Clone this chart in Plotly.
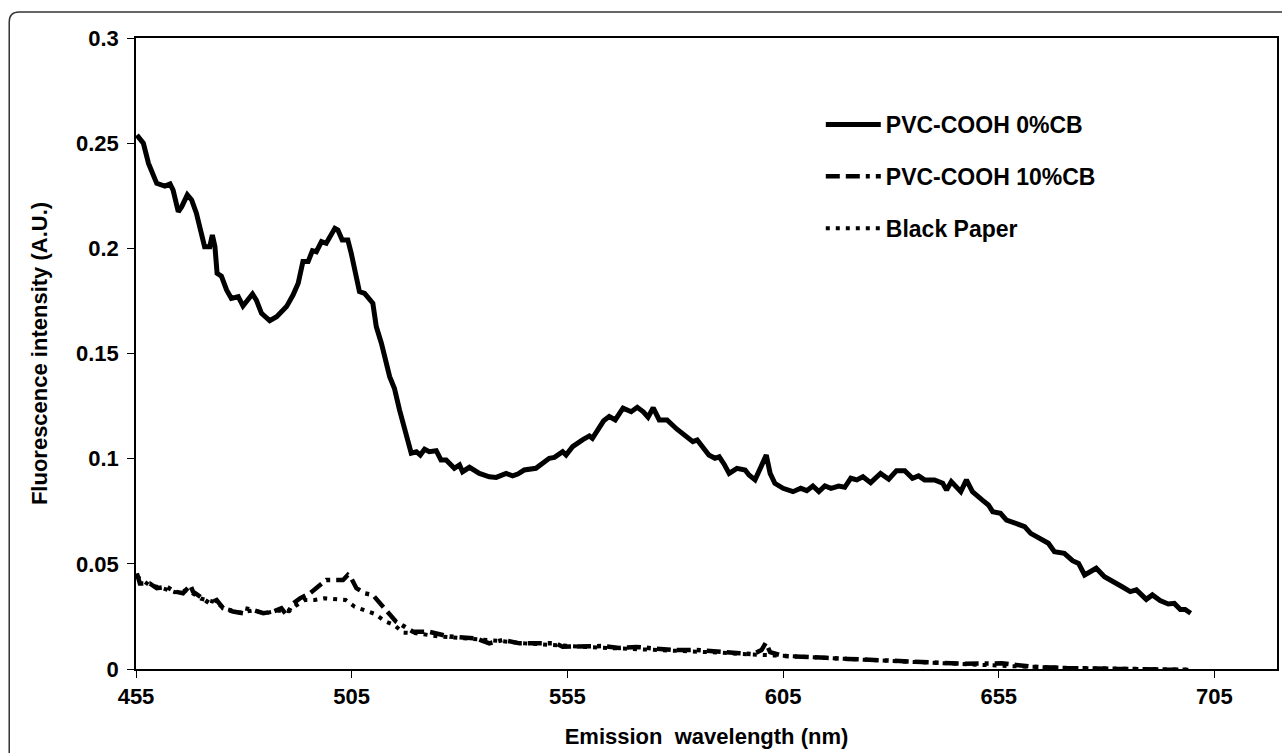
import plotly.graph_objects as go

# ---------------- data ----------------
wl_0cb = [455.2, 456.7, 457.9, 458.6, 459.8, 461.7, 462.9, 463.6, 464.8, 465.6, 466.9, 467.9, 469.0,
          470.9, 472.1, 472.7, 473.3, 473.8, 474.8, 476.0, 477.1, 478.7, 479.8, 482.0, 482.9, 484.1,
          486.0, 487.6, 489.9, 491.4, 492.6, 493.7, 494.9, 495.9, 496.8, 498.0, 499.1, 501.1, 501.8,
          502.8, 504.1, 504.9, 506.1, 506.8, 508.0, 508.8, 509.9, 510.7, 511.9, 513.8, 514.9, 516.1,
          517.3, 518.8, 520.0, 520.9, 521.9, 523.0, 524.6, 525.7, 526.9, 528.8, 530.0, 530.7, 532.3,
          534.6, 536.9, 538.5, 540.8, 542.3, 543.5, 545.0, 547.7, 550.8, 552.0, 553.9, 554.7, 556.2,
          558.5, 560.1, 560.8, 562.4, 563.4, 564.7, 566.1, 567.9, 569.8, 571.2, 572.6, 573.7, 574.9,
          576.3, 578.1, 580.4, 582.3, 584.1, 585.1, 586.5, 587.8, 589.2, 590.2, 591.3, 592.5, 594.3,
          596.2, 597.1, 598.5, 599.9, 601.1, 602.0, 603.1, 605.0, 607.3, 609.1, 610.5, 611.9, 613.3,
          614.7, 616.1, 617.9, 619.3, 620.7, 622.1, 623.5, 625.3, 627.6, 629.5, 631.3, 633.2, 635.0,
          636.4, 637.8, 640.1, 642.0, 642.9, 644.0, 646.2, 647.5, 648.9, 651.2, 652.6, 653.6, 655.4,
          656.8, 659.1, 661.0, 662.4, 664.7, 666.5, 667.9, 670.2, 672.1, 673.5, 674.9, 676.2, 677.6,
          679.5, 681.8, 683.6, 685.5, 686.9, 689.2, 690.6, 692.4, 694.3, 695.7, 697.1, 698.2, 699.5]
int_0cb = [0.2539, 0.2500, 0.2404, 0.2372, 0.2309, 0.2296, 0.2306, 0.2277, 0.2174, 0.2198, 0.2254, 0.2230, 0.2167,
           0.2008, 0.2008, 0.2063, 0.2008, 0.1881, 0.1868, 0.1802, 0.1762, 0.1770, 0.1726, 0.1783, 0.1754, 0.1691,
           0.1656, 0.1675, 0.1723, 0.1778, 0.1834, 0.1937, 0.1937, 0.1989, 0.1984, 0.2032, 0.2024, 0.2095, 0.2087,
           0.2040, 0.2040, 0.1976, 0.1850, 0.1794, 0.1786, 0.1762, 0.1739, 0.1628, 0.1548, 0.1390, 0.1335, 0.1231,
           0.1136, 0.1026, 0.1033, 0.1017, 0.1045, 0.1033, 0.1038, 0.0994, 0.0994, 0.0954, 0.0970, 0.0938, 0.0959,
           0.0930, 0.0914, 0.0911, 0.0930, 0.0918, 0.0927, 0.0946, 0.0954, 0.1002, 0.1006, 0.1033, 0.1017, 0.1057,
           0.1089, 0.1108, 0.1097, 0.1152, 0.1180, 0.1200, 0.1184, 0.1240, 0.1223, 0.1244, 0.1223, 0.1197, 0.1242,
           0.1184, 0.1184, 0.1140, 0.1113, 0.1081, 0.1089, 0.1049, 0.1017, 0.1002, 0.1009, 0.0975, 0.0930, 0.0954,
           0.0946, 0.0922, 0.0899, 0.0962, 0.1017, 0.0930, 0.0883, 0.0859, 0.0843, 0.0859, 0.0848, 0.0870, 0.0843,
           0.0870, 0.0859, 0.0870, 0.0864, 0.0907, 0.0899, 0.0914, 0.0886, 0.0930, 0.0902, 0.0943, 0.0943, 0.0907,
           0.0918, 0.0899, 0.0899, 0.0883, 0.0851, 0.0891, 0.0843, 0.0899, 0.0843, 0.0803, 0.0780, 0.0748, 0.0740,
           0.0708, 0.0693, 0.0677, 0.0645, 0.0621, 0.0598, 0.0558, 0.0550, 0.0515, 0.0502, 0.0447, 0.0463, 0.0479,
           0.0439, 0.0415, 0.0391, 0.0368, 0.0376, 0.0331, 0.0352, 0.0325, 0.0309, 0.0312, 0.0283, 0.0283, 0.0265]

wl_10cb = [455.2, 455.9, 458.2, 459.8, 462.1, 464.0, 465.9, 467.6, 468.2, 470.2, 472.1, 473.7, 475.2,
           477.5, 479.8, 480.2, 482.1, 484.5, 486.8, 488.7, 489.9, 491.4, 493.0, 495.3, 496.8, 499.1,
           501.4, 503.0, 504.1, 504.9, 506.1, 508.0, 509.9, 511.5, 513.4, 515.3, 517.3, 519.2, 523.0,
           527.7, 533.8, 536.9, 540.0, 543.9, 547.7, 552.3, 553.9, 557.8, 563.2, 567.0, 571.0, 575.0,
           580.0, 585.0, 590.0, 595.0, 598.0, 600.0, 601.0, 602.0, 605.0, 610.0, 615.0, 620.0, 625.0,
           630.0, 640.0, 647.0, 655.7, 662.6, 670.4, 678.1, 685.8, 693.5, 699.5]
int_10cb = [0.0455, 0.0407, 0.0407, 0.0384, 0.0391, 0.0368, 0.0360, 0.0399, 0.0368, 0.0336, 0.0312, 0.0328, 0.0289,
            0.0273, 0.0265, 0.0289, 0.0281, 0.0265, 0.0273, 0.0289, 0.0257, 0.0312, 0.0336, 0.0360, 0.0384, 0.0423,
            0.0423, 0.0423, 0.0447, 0.0431, 0.0384, 0.0360, 0.0352, 0.0312, 0.0265, 0.0225, 0.0201, 0.0177, 0.0177,
            0.0154, 0.0146, 0.0122, 0.0138, 0.0122, 0.0122, 0.0122, 0.0106, 0.0106, 0.0109, 0.0100, 0.0105, 0.0098,
            0.0090, 0.0090, 0.0080, 0.0075, 0.0070, 0.0090, 0.0125, 0.0080, 0.0062, 0.0060, 0.0053, 0.0048, 0.0044,
            0.0038, 0.0030, 0.0025, 0.0027, 0.0011, 0.0004, 0.0003, 0.0001, 0.0000, -0.0005]

wl_paper = [455.2, 458.0, 461.0, 464.0, 467.0, 470.0, 473.0, 476.0, 479.0, 482.0, 485.0, 488.0, 490.5,
            492.0, 494.1, 496.4, 498.7, 501.3, 503.6, 505.7, 508.0, 510.5, 512.6, 514.9, 516.9, 520.0,
            525.0, 530.0, 535.0, 540.0, 545.0, 550.0, 555.0, 560.0, 565.0, 570.0, 575.0, 580.0, 585.0,
            590.0, 595.0, 600.0, 605.0, 610.0, 620.0, 630.0, 640.0, 650.0, 660.0, 670.0, 680.0, 690.0, 699.0]
int_paper = [0.0440, 0.0400, 0.0385, 0.0365, 0.0375, 0.0335, 0.0320, 0.0285, 0.0268, 0.0278, 0.0265, 0.0278, 0.0275,
             0.0300, 0.0328, 0.0328, 0.0336, 0.0331, 0.0328, 0.0296, 0.0281, 0.0261, 0.0228, 0.0209, 0.0173, 0.0170,
             0.0155, 0.0148, 0.0140, 0.0132, 0.0122, 0.0118, 0.0110, 0.0104, 0.0100, 0.0097, 0.0094, 0.0088, 0.0085,
             0.0078, 0.0072, 0.0068, 0.0062, 0.0058, 0.0048, 0.0038, 0.0028, 0.0020, 0.0012, 0.0006, 0.0002, 0.0000, -0.0003]

names = ["PVC-COOH 0%CB", "PVC-COOH 10%CB", "Black Paper"]
x_ticks = [455, 505, 555, 605, 655, 705]
y_ticks = [0, 0.05, 0.1, 0.15, 0.2, 0.25, 0.3]

FONT = "Liberation Sans, Arial, sans-serif"

fig = go.Figure()
fig.add_trace(go.Scatter(x=wl_0cb, y=int_0cb, name=names[0], mode="lines", legendgroup="a",
                         line=dict(color="black", width=5)))
fig.add_trace(go.Scatter(x=wl_10cb, y=int_10cb, name=names[1], mode="lines", legendgroup="b",
                         line=dict(color="black", width=4.5, dash="14px,6px,14px,6px,4px,6px")))
fig.add_trace(go.Scatter(x=wl_paper, y=int_paper, name=names[2], mode="lines", legendgroup="c",
                         line=dict(color="black", width=4, dash="4px,6px")))

# outer rounded frame (partially off-page, as in the original figure)
W, H = 1282, 753
L, R, T, B = 136, 3, 38, 84
pw, ph = W - L - R, H - T - B
def px2x(p): return (p - L) / pw
def py2y(p): return 1 - (p - T) / ph
x0, y0, rad = px2x(9), py2y(12), 10
path = (f"M {x0},{py2y(800)} L {x0},{py2y(12 + rad)} "
        f"Q {x0},{y0} {px2x(9 + rad)},{y0} L {px2x(1300)},{y0}")
fig.add_shape(type="path", path=path, xref="paper", yref="paper",
              line=dict(color="#333333", width=1.5), layer="below")

fig.update_layout(
    width=W, height=H,
    margin=dict(l=L, r=R, t=T, b=B),
    paper_bgcolor="white", plot_bgcolor="white",
    font=dict(family=FONT, color="black", size=20),
    showlegend=True,
    legend=dict(x=px2x(822), y=py2y(103), xanchor="left", yanchor="top",
                bgcolor="rgba(0,0,0,0)", borderwidth=0, tracegroupgap=19,
                itemwidth=55,
                font=dict(family=FONT, size=23, weight="bold", color="black")),
    xaxis=dict(range=[455, 719.5], tickvals=x_ticks, ticktext=[str(v) for v in x_ticks],
               showgrid=False, zeroline=False, showline=True, linecolor="black", linewidth=1.5,
               mirror=True, ticks="outside", ticklen=7, tickcolor="black", tickwidth=1.2,
               tickfont=dict(family=FONT, size=22, weight="bold"),
               title=dict(text="Emission  wavelength (nm)", standoff=20,
                          font=dict(family=FONT, size=22, weight="bold"))),
    yaxis=dict(range=[0, 0.3], tickvals=y_ticks, ticktext=["0", "0.05", "0.1", "0.15", "0.2", "0.25", "0.3"],
               showgrid=False, zeroline=False, showline=True, linecolor="black", linewidth=1.5,
               mirror=True, ticks="outside", ticklen=7, tickcolor="black", tickwidth=1.2,
               ticklabelstandoff=4,
               tickfont=dict(family=FONT, size=22, weight="bold"),
               title=dict(text="Fluorescence intensity (A.U.)", standoff=22,
                          font=dict(family=FONT, size=22, weight="bold"))),
)

fig.write_html("out.html")
